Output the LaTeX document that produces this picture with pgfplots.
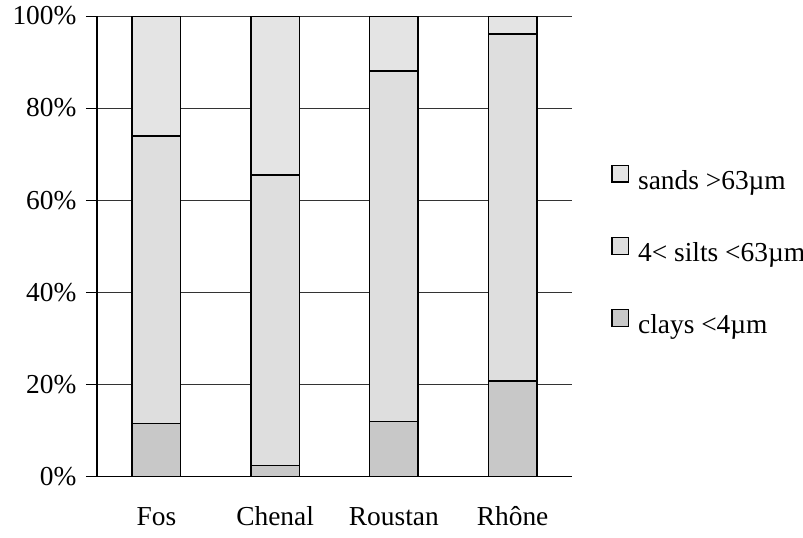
\documentclass[border=0pt]{standalone}
\usepackage{pgfplots}
\pgfplotsset{compat=1.18}
\usepackage{fontspec}
\setmainfont{Liberation Serif}
\definecolor{clay}{RGB}{200,200,200}
\definecolor{silt}{RGB}{222,222,222}
\definecolor{sand}{RGB}{228,228,228}
\begin{document}
\fontsize{13.7}{16}\selectfont
\begin{tikzpicture}
\begin{axis}[
  scale only axis, width=237.5pt, height=230.15pt,
  ybar stacked, bar width=0.407,
  enlargelimits=false,
  xmin=-0.5, xmax=3.5, ymin=0, ymax=100,
  xtick={0,1,2,3}, xticklabels={Fos,Chenal,Roustan,Rhône},
  xtick style={draw=none},
  xticklabel style={anchor=north, inner sep=0pt, text height=9.1pt, text depth=0pt, yshift=-10pt},
  minor xtick={-0.5,0.5,1.5,2.5,3.5},
  ytick={0,20,...,100},
  yticklabel={\pgfmathprintnumber{\tick}\%},
  /pgf/number format/assume math mode=true,
  axis x line*=bottom, axis y line*=left,
  axis line style={-, black, line width=0.6pt},
  ymajorgrids, grid style={black!80, line width=0.5pt},
  tick align=outside, major tick length=5.5pt, minor tick length=4pt,
  tick style={black, line width=0.5pt},
  every axis plot post/.append style={legend image code/.code={\draw[##1, draw=black, line width=0.6pt] (0pt,0pt) rectangle (8.3pt,8.3pt);}},
  legend reversed,
  legend style={draw=none, fill=none, at={(1.082,0.487)}, anchor=west, inner sep=0pt,
    nodes={inner sep=0pt, text height=10pt, text depth=3pt}, row sep=21pt, column sep=4.5pt},
  legend cell align=left,
]
\addplot[fill=clay, draw=black, line width=0.75pt] coordinates {(0,11.5) (1,2.3) (2,11.9) (3,20.7)};
\addplot[fill=silt, draw=black, line width=0.75pt] coordinates {(0,62.4) (1,63.2) (2,76.2) (3,75.4)};
\addplot[fill=sand, draw=black, line width=0.75pt] coordinates {(0,26.1) (1,34.5) (2,11.9) (3,3.9)};
\legend{clays <4µm, 4< silts <63µm, sands >63µm}
\end{axis}
\pgfresetboundingbox
\path[use as bounding box] ([shift={(-48.5pt,-30.35pt)}]current axis.south west) rectangle ([shift={(353pt,238.15pt)}]current axis.south west);
\end{tikzpicture}
\end{document}
